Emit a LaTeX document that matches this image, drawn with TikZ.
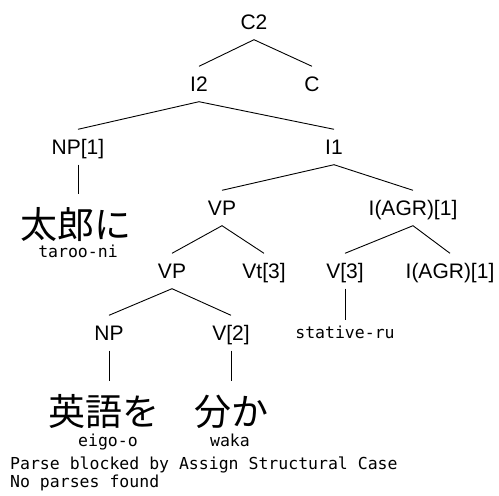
\documentclass[tikz,border=0pt]{standalone}
\usepackage{fontspec}
\setmainfont{Liberation Sans}
\setmonofont{DejaVu Sans Mono}
\newfontfamily\jafont{Noto Sans CJK JP}
\usetikzlibrary{positioning}

\tikzset{
  cat/.style={anchor=base, font=\fontsize{21}{21}\selectfont, text height=15pt, text depth=0pt, inner xsep=0pt, inner ysep=10pt},
  word/.style={anchor=base, font=\jafont\fontsize{37}{37}\selectfont, text height=32pt, text depth=0pt, inner xsep=0pt, inner ysep=12pt},
  gloss/.style={anchor=base, font=\ttfamily\fontsize{16.5}{16.5}\selectfont, text height=12pt, text depth=0pt, inner xsep=0pt, inner ysep=6pt},
  branch/.style={line width=0.9pt}
}

\begin{document}
\begin{tikzpicture}[x=1pt, y=-1pt]
\useasboundingbox (0,0) rectangle (499,496);

\begin{scope}[every node/.style={cat}]
\node(c2) at (254,29.5) {C2};
\node(i2) at (199,91.5) {I2};
\node(c) at (312,91.5) {C};
\node(np1) at (78,154.5) {NP[1]};
\node(i1) at (334,154.5) {I1};
\node(vp) at (222,215.5) {VP};
\node(agr) at (413,215.5) {I(AGR)[1]};
\node(vp2) at (172,278.5) {VP};
\node(vt3) at (264,278.5) {Vt[3]};
\node(v3) at (345,278.5) {V[3]};
\node(agr2) at (450,278.5) {I(AGR)[1]};
\node(np) at (109,340.5) {NP};
\node(v2) at (231,340.5) {V[2]};
\end{scope}

\node[word](taroo) at (76,238) {太郎に};
\node[word](eigo) at (104,425) {英語を};
\node[word](waka) at (231,425) {分か};

\node[gloss](taroog) at (78,257) {taroo-ni};
\node[gloss](eigog) at (108,446) {eigo-o};
\node[gloss](wakag) at (230,446) {waka};
\node[gloss](stat) at (345,338) {stative-ru};

\node[gloss, anchor=base west, inner sep=0pt](msg1) at (10,469) {Parse blocked by Assign Structural Case};
\node[gloss, anchor=base west, inner sep=0pt](msg2) at (10,487) {No parses found};

\draw[branch] (i2.north) -- (c2.south) -- (c.north);
\draw[branch] (np1.north) -- (i2.south) -- (i1.north);
\draw[branch] (np1.south) -- (np1.south |- taroo.north);
\draw[branch] (vp.north) -- (i1.south) -- (agr.north);
\draw[branch] (vp2.north) -- (vp.south) -- (vt3.north);
\draw[branch] (v3.north) -- (agr.south) -- (agr2.north);
\draw[branch] (np.north) -- (vp2.south) -- (v2.north);
\draw[branch] (v3.south) -- (stat.north);
\draw[branch] (np.south) -- (np.south |- eigo.north);
\draw[branch] (v2.south) -- (v2.south |- waka.north);
\end{tikzpicture}
\end{document}
